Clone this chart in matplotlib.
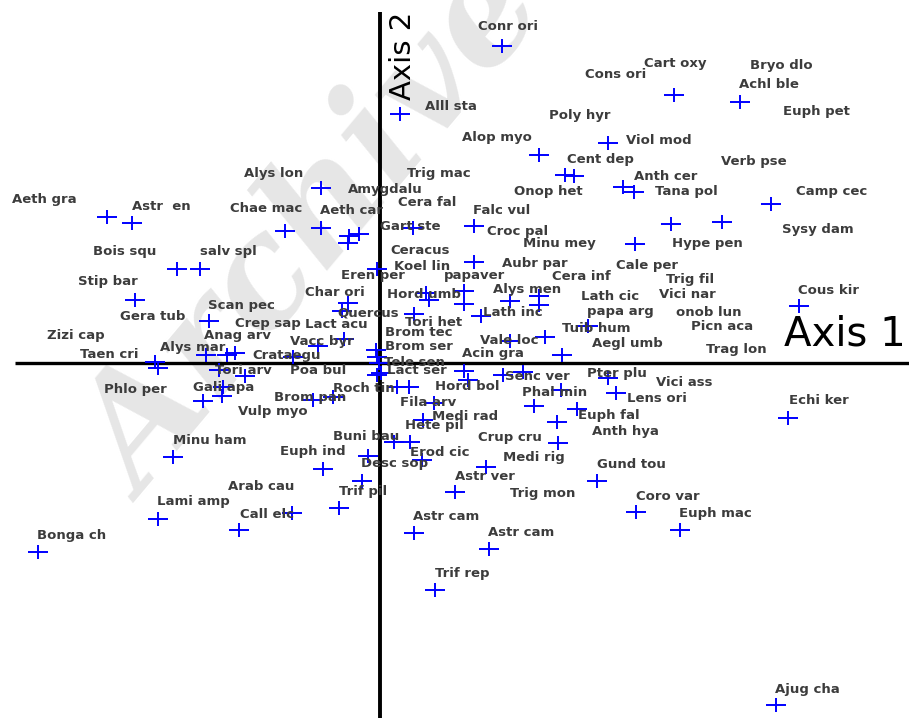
import matplotlib
matplotlib.use("Agg")
import matplotlib.pyplot as plt
from matplotlib.path import Path

# species sample scores (crosses)
point_x = [1.22, 0.20, 2.94, 3.60, 1.59, 2.28, 1.85, 1.94, 2.43, 2.54, 3.91, 2.91, 3.42, 2.55,
           0.94, 0.33, -0.59, -2.73, -2.48, -0.95, -0.59, -0.31, -0.21, -0.32, -2.03, -1.80,
           -2.45, -0.03, 0.94, 4.19, 0.46, 0.49, 0.84, 0.84, 1.30, 1.59, 1.59, -0.32, -0.38,
           0.34, 1.01, 2.08, 1.65, 1.30, 1.82, -0.36, -1.71, -2.25, -2.22, -1.74, -1.53, -1.45,
           -1.61, -1.35, -1.57, -1.77, -1.58, -0.67, -0.47, -0.87, -0.62, -0.04, -0.03, -0.01,
           0.01, 0.17, 0.29, 0.84, 0.88, 1.23, 1.43, 2.28, 2.36, 1.81, 1.54, 1.97, 1.77, 4.08,
           0.54, 0.43, 0.14, 0.30, 1.78, 1.06, 0.42, -0.12, -0.57, -0.18, 2.17, 0.75, -0.41,
           -0.88, 2.56, -2.22, -1.41, 3.00, 0.34, 1.09, -3.42, 0.55, 3.96, -2.07, -0.03]
point_y = [3.17, 2.49, 2.68, 2.61, 2.08, 2.20, 1.88, 1.87, 1.76, 1.71, 1.59, 1.39, 1.41, 1.19,
           1.37, 1.35, 1.75, 1.46, 1.40, 1.32, 1.35, 1.27, 1.29, 1.20, 0.94, 0.94,
           0.63, 0.94, 1.01, 0.57, 0.70, 0.63, 0.72, 0.59, 0.62, 0.67, 0.58, 0.60, 0.52,
           0.49, 0.47, 0.37, 0.26, 0.22, 0.08, 0.24, 0.42, 0.01, -0.05, 0.08, 0.08, 0.10,
           -0.07, -0.13, -0.24, -0.38, -0.33, -0.37, -0.34, 0.06, 0.17, 0.13, 0.06, 0.00,
           -0.10, -0.24, -0.24, -0.08, -0.17, -0.12, -0.09, -0.15, -0.30, -0.27, -0.43, -0.46, -0.59, -0.55,
           -0.40, -0.57, -0.79, -0.79, -0.80, -1.04, -0.97, -0.93, -1.06, -1.18, -1.18, -1.29, -1.45,
           -1.50, -1.49, -1.56, -1.67, -1.67, -1.70, -1.86, -1.89, -2.27, -3.42, -0.94, -0.12]

# species labels
label_names = ["Conr ori", "Cart oxy", "Bryo dlo", "Cons ori", "Achl ble", "Alll sta", "Euph pet",
               "Poly hyr", "Alop myo", "Viol mod", "Cent dep", "Verb pse", "Alys lon", "Trig mac",
               "Anth cer", "Amygdalu", "Onop het", "Tana pol", "Camp cec", "Aeth gra", "Cera fal",
               "Astr  en", "Chae mac", "Falc vul", "Aeth car", "Gart ste", "Sysy dam", "Croc pal",
               "Hype pen", "Minu mey", "Ceracus", "Bois squ", "salv spl", "Aubr par", "Cale per",
               "Koel lin", "Cera inf", "Eren per", "papaver", "Trig fil", "Stip bar", "Alys men",
               "Cous kir", "Char ori", "Hord umb", "Vici nar", "Lath cic", "Scan pec", "papa arg",
               "Lath inc", "onob lun", "Quercus", "Gera tub", "Crep sap", "Tori het", "Lact acu",
               "Picn aca", "Tuib hum", "Brom tec", "Zizi cap", "Anag arv", "Vacc byr", "Vale loc",
               "Aegl umb", "Brom ser", "Alys mar", "Trag lon", "Taen cri", "Crataegu", "Acin gra",
               "Tele sen", "Lact ser", "Tori arv", "Poa bul", "Pter plu", "Senc ver", "Vici ass",
               "Roch tin", "Hord bol", "Phlo per", "Gali apa", "Phal min", "Brom pan", "Lens ori",
               "Echi ker", "Fila arv", "Vulp myo", "Medi rad", "Euph fal", "Hete pil", "Anth hya",
               "Buni bau", "Crup cru", "Minu ham", "Euph ind", "Erod cic", "Medi rig", "Desc sop",
               "Gund tou", "Astr ver", "Arab cau", "Trif pil", "Trig mon", "Coro var", "Lami amp",
               "Call elc", "Euph mac", "Astr cam", "Astr cam", "Bonga ch", "Trif rep", "Ajug cha"]
label_x = [0.98, 2.64, 3.70, 2.05, 3.59, 0.45, 4.03, 1.69, 0.82, 2.46, 1.87, 3.41, -1.36, 0.27,
           2.54, -0.32, 1.34, 2.75, 4.16, -3.68, 0.18, -2.48, -1.50, 0.93, -0.60, 0.00, 4.02,
           1.07, 2.92, 1.43, 0.10, -2.87, -1.80, 1.22, 2.36, 0.14, 1.72, -0.39, 0.64, 2.86,
           -3.02, 1.13, 4.18, -0.75, 0.07, 2.79, 2.01, -1.72, 2.07, 1.03, 2.96, -0.43, -2.60,
           -1.45, 0.25, -0.75, 3.11, 1.82, 0.05, -3.33, -1.76, -0.90, 1.00, 2.12, 0.05, -2.20,
           3.26, -3.00, -1.28, 0.82, 0.04, 0.07, -1.65, -0.90, 2.07, 1.25, 2.76, -0.47, 0.55,
           -2.76, -1.87, 1.42, -1.06, 2.47, 4.09, 0.20, -1.42, 0.52, 1.98, 0.25, 2.12, -0.47,
           0.98, -2.07, -1.00, 0.30, 1.23, -0.19, 2.17, 0.75, -1.52, -0.41, 1.30, 2.56, -2.23,
           -1.40, 2.99, 0.33, 1.08, -3.43, 0.55, 3.95]
label_y = [3.36, 3.00, 2.98, 2.88, 2.78, 2.56, 2.52, 2.48, 2.26, 2.22, 2.04, 2.01, 1.89, 1.89,
           1.86, 1.73, 1.72, 1.71, 1.71, 1.63, 1.61, 1.57, 1.55, 1.53, 1.52, 1.37, 1.34,
           1.31, 1.20, 1.19, 1.13, 1.11, 1.12, 0.99, 0.98, 0.97, 0.87, 0.87, 0.87, 0.83,
           0.81, 0.74, 0.73, 0.71, 0.68, 0.68, 0.66, 0.58, 0.52, 0.50, 0.50, 0.50, 0.46,
           0.40, 0.40, 0.39, 0.37, 0.35, 0.30, 0.28, 0.28, 0.22, 0.23, 0.20, 0.16, 0.16,
           0.14, 0.09, 0.08, 0.09, 0.00, -0.07, -0.08, -0.08, -0.10, -0.13, -0.19, -0.25, -0.24,
           -0.26, -0.25, -0.29, -0.34, -0.35, -0.38, -0.40, -0.48, -0.53, -0.53, -0.63, -0.69, -0.74,
           -0.74, -0.77, -0.88, -0.89, -0.95, -1.01, -1.02, -1.14, -1.23, -1.29, -1.31, -1.33, -1.39,
           -1.51, -1.51, -1.53, -1.70, -1.72, -2.11, -3.26]

fig = plt.figure(figsize=(9.09, 7.18), dpi=100)
ax = fig.add_axes([0, 0, 1, 1])
ax.set_xlim(-3.80, 5.29)
ax.set_ylim(-3.55, 3.63)
ax.axis('off')

# watermark, behind everything
ax.text(0.16, 0.30, "Archive of SID", transform=fig.transFigure, rotation=50,
        rotation_mode='anchor', fontsize=108, family='DejaVu Serif', style='italic',
        weight='bold', color='#e6e6e6', ha='left', va='baseline', zorder=0)

# axes through the origin
ax.plot([-3.65, 5.29], [0, 0], color='black', lw=2.4, zorder=2, solid_capstyle='butt')
ax.plot([0, 0], [-3.55, 3.51], color='black', lw=2.8, zorder=2, solid_capstyle='butt')

cross = Path([(-1, 0), (1, 0), (0, -0.65), (0, 0.65)],
             [Path.MOVETO, Path.LINETO, Path.MOVETO, Path.LINETO])
ax.plot(point_x, point_y, linestyle='none', marker=cross, markersize=15,
        markeredgewidth=1.4, color='#0000ff', zorder=3)

for name, x, y in zip(label_names, label_x, label_y):
    ax.text(x, y, name, fontsize=9.5, weight='bold', color='#3c3c3c',
            ha='left', va='center', zorder=4)

ax.text(4.04, 0.29, "Axis 1", fontsize=29, color='black', ha='left', va='center', zorder=4)
ax.text(0.23, 3.51, "Axis 2", fontsize=21, color='black', rotation=90,
        ha='center', va='top', zorder=4)

fig.savefig("out.png", dpi=100)
